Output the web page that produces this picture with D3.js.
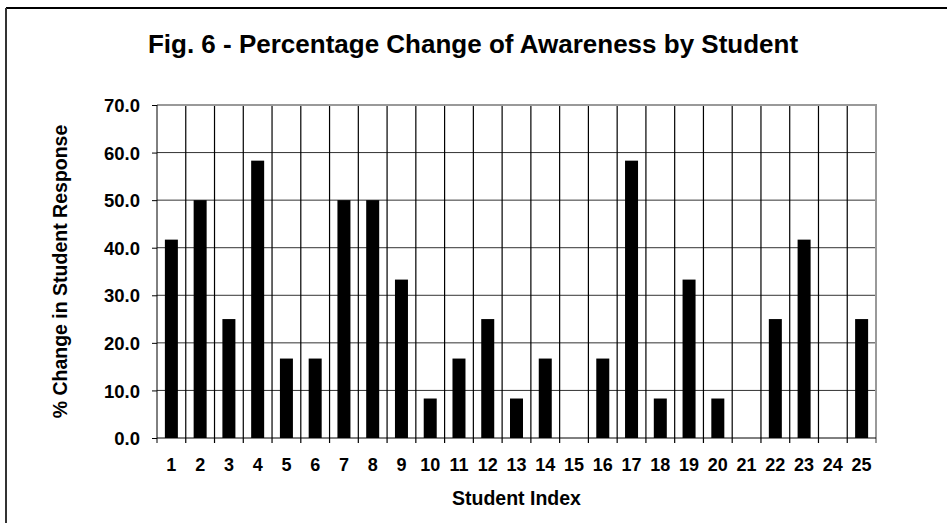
<!DOCTYPE html>
<html>
<head>
<meta charset="utf-8">
<script src="https://cdn.jsdelivr.net/npm/d3@7"></script>
<style>
  body { margin: 0; background: #fff; }
  text { font-family: "Liberation Sans", Arial, sans-serif; font-weight: bold; fill: #000; }
</style>
</head>
<body>
<svg id="chart" width="947" height="523"></svg>
<script>
// data
var students = ["1","2","3","4","5","6","7","8","9","10","11","12","13","14","15","16","17","18","19","20","21","22","23","24","25"]
var change = [41.7, 50.0, 25.0, 58.3, 16.7, 16.7, 50.0, 50.0, 33.3, 8.3, 16.7, 25.0, 8.3, 16.7, 0, 16.7, 58.3, 8.3, 33.3, 8.3, 0, 25.0, 41.7, 0, 25.0]
var yTicks = [0, 10, 20, 30, 40, 50, 60, 70]

var svg = d3.select("#chart")

// outer frame (only left and top edges fall inside the picture)
svg.append("line").attr("x1", 6).attr("y1", 8).attr("x2", 947).attr("y2", 8).style("stroke", "#000").style("stroke-width", 2)
svg.append("line").attr("x1", 6).attr("y1", 8).attr("x2", 6).attr("y2", 523).style("stroke", "#333").style("stroke-width", 2)

// plot area edges
var pLeft = 157, pRight = 876, pTop = 105, pBottom = 438

var x = d3.scaleBand().domain(students).range([pLeft, pRight]).paddingInner(0).paddingOuter(0)
var y = d3.scaleLinear().domain([0, 70]).range([pBottom, pTop])

// horizontal gridlines
svg.append("g").selectAll("line").data(yTicks.slice(1)).enter().append("line")
  .attr("x1", pLeft).attr("x2", pRight)
  .attr("y1", d => y(d)).attr("y2", d => y(d))
  .style("stroke", "#333").style("stroke-width", 1)

// vertical gridlines at category boundaries
svg.append("g").selectAll("line").data(students.slice(1)).enter().append("line")
  .attr("x1", d => x(d)).attr("x2", d => x(d))
  .attr("y1", pTop).attr("y2", pBottom + 5)
  .style("stroke", "#000").style("stroke-width", 1.2)

// plot border top/right (grey)
svg.append("line").attr("x1", pLeft).attr("x2", pRight + 1).attr("y1", pTop).attr("y2", pTop).style("stroke", "#999").style("stroke-width", 2)
svg.append("line").attr("x1", pRight).attr("x2", pRight).attr("y1", pTop).attr("y2", pBottom + 5).style("stroke", "#999").style("stroke-width", 2)

// bars
var barW = 13
svg.append("g").selectAll("rect").data(change).enter().append("rect")
  .attr("x", (d, i) => x(students[i]) + x.bandwidth() / 2 - barW / 2)
  .attr("width", barW)
  .attr("y", d => y(d))
  .attr("height", d => pBottom - y(d))
  .style("fill", "#000")

// y axis
var yAxis = d3.axisLeft(y).tickValues(yTicks).tickFormat(d3.format(".1f")).tickSize(5).tickPadding(12)
var gy = svg.append("g").attr("transform", "translate(" + pLeft + ",0)").call(yAxis)
gy.select(".domain").attr("d", "M0," + pTop + "V" + pBottom).style("stroke", "#000")
gy.selectAll(".tick line").style("stroke", "#000")
gy.selectAll("text").style("font-size", "18.5px").style("font-family", "'Liberation Sans', Arial, sans-serif").style("font-weight", "bold").attr("dy", "0.36em")

// x axis: labels centred under bars, ticks at boundaries
var gx = svg.append("g").attr("transform", "translate(0," + pBottom + ")")
gx.append("line").attr("x1", pLeft).attr("x2", pRight).attr("y1", 0).attr("y2", 0).style("stroke", "#000")
gx.append("line").attr("x1", pLeft).attr("x2", pLeft).attr("y1", 0).attr("y2", 5).style("stroke", "#000")
gx.selectAll("text").data(students).enter().append("text")
  .attr("x", d => x(d) + x.bandwidth() / 2)
  .attr("y", 33)
  .attr("text-anchor", "middle")
  .style("font-size", "18px")
  .text(d => d)

// titles
svg.append("text").attr("x", 473).attr("y", 53).attr("text-anchor", "middle").style("font-size", "26px")
  .text("Fig. 6 - Percentage Change of Awareness by Student")
svg.append("text").attr("x", (pLeft + pRight) / 2).attr("y", 505).attr("text-anchor", "middle").style("font-size", "19.5px")
  .text("Student Index")
svg.append("text").attr("transform", "translate(67," + ((pTop + pBottom) / 2) + ") rotate(-90)")
  .attr("text-anchor", "middle").style("font-size", "19.5px")
  .text("% Change in Student Response")
</script>
</body>
</html>
